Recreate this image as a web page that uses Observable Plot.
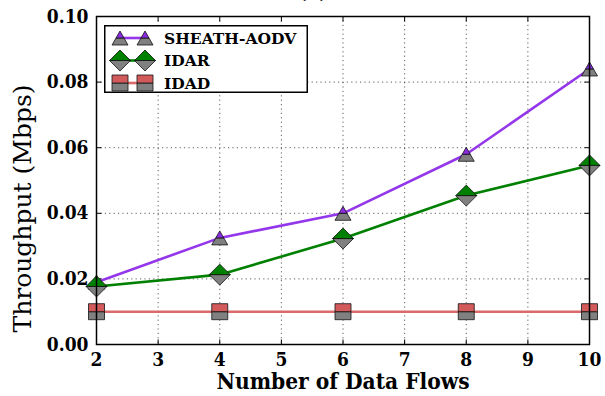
<!DOCTYPE html>
<html>
<head>
<meta charset="utf-8">
<script src="https://cdn.jsdelivr.net/npm/d3@7"></script>
<script src="https://cdn.jsdelivr.net/npm/@observablehq/plot@0.6"></script>
<style>
  html, body { margin: 0; padding: 0; background: #fff; }
  #wrap { position: relative; width: 605px; height: 396px; overflow: hidden; }
  #legend { position: absolute; left: 104px; top: 25px; }
</style>
</head>
<body>
<div id="wrap"></div>
<script>
// ---- data ----
const flows = [2, 4, 6, 8, 10];
const seriesNames = ["SHEATH-AODV", "IDAR", "IDAD"];
const sheath = [0.019, 0.0325, 0.040, 0.058, 0.084];
const idar = [0.0177, 0.0213, 0.0323, 0.0454, 0.0546];
const idad = [0.010, 0.010, 0.010, 0.010, 0.010];
const xTicks = [2, 3, 4, 5, 6, 7, 8, 9, 10];
const yTicks = [0.00, 0.02, 0.04, 0.06, 0.08, 0.10];
const titleText = "(a)";
const xLabel = "Number of Data Flows";
const yLabel = "Throughput (Mbps)";

// ---- styles ----
const lineColors = ["#9436ea", "#008000", "#dc6a6a"];
const topColors = ["#8a2be2", "#008000", "#d35a5a"];
const gray = "#808080";
const condensed = "'DejaVu Serif Condensed', 'DejaVu Serif', serif";
const serif = "'DejaVu Serif', serif";

// half-filled symbols
const tw = 8, th = 7;
const triTop = {draw(c){ c.moveTo(0,-th); c.lineTo(tw/2,0); c.lineTo(-tw/2,0); c.closePath(); }};
const triBot = {draw(c){ c.moveTo(-tw/2,0); c.lineTo(tw/2,0); c.lineTo(tw,th); c.lineTo(-tw,th); c.closePath(); }};
const dr = 10.5;
const diaTop = {draw(c){ c.moveTo(-dr,0); c.lineTo(0,-dr); c.lineTo(dr,0); c.closePath(); }};
const diaBot = {draw(c){ c.moveTo(-dr,0); c.lineTo(dr,0); c.lineTo(0,dr); c.closePath(); }};
const sq = 8;
const sqTop = {draw(c){ c.moveTo(-sq,-sq); c.lineTo(sq,-sq); c.lineTo(sq,0); c.lineTo(-sq,0); c.closePath(); }};
const sqBot = {draw(c){ c.moveTo(-sq,0); c.lineTo(sq,0); c.lineTo(sq,sq); c.lineTo(-sq,sq); c.closePath(); }};
const symTop = [triTop, diaTop, sqTop];
const symBot = [triBot, diaBot, sqBot];

// tick symbols (inward)
const tl = 5;
const tickUp = {draw(c){ c.moveTo(0,0); c.lineTo(0,-tl); }};
const tickDown = {draw(c){ c.moveTo(0,0); c.lineTo(0,tl); }};
const tickRight = {draw(c){ c.moveTo(0,0); c.lineTo(tl,0); }};
const tickLeft = {draw(c){ c.moveTo(0,0); c.lineTo(-tl,0); }};

const allSeries = [sheath, idar, idad];
const rows = [];
allSeries.forEach((vals, si) => vals.forEach((v, i) => rows.push({series: seriesNames[si], si, x: flows[i], y: v})));

const marks = [
  Plot.gridX(xTicks.slice(1, -1), {stroke: "#222", strokeOpacity: 0.8, strokeWidth: 0.9, strokeDasharray: "1.2,3.2"}),
  Plot.gridY(yTicks.slice(1, -1), {stroke: "#222", strokeOpacity: 0.8, strokeWidth: 0.9, strokeDasharray: "1.2,3.2"}),
  Plot.dot(xTicks, {x: d => d, frameAnchor: "bottom", symbol: tickUp, stroke: "black", strokeWidth: 1}),
  Plot.dot(xTicks, {x: d => d, frameAnchor: "top", symbol: tickDown, stroke: "black", strokeWidth: 1}),
  Plot.dot(yTicks, {y: d => d, frameAnchor: "left", symbol: tickRight, stroke: "black", strokeWidth: 1}),
  Plot.dot(yTicks, {y: d => d, frameAnchor: "right", symbol: tickLeft, stroke: "black", strokeWidth: 1}),
];
seriesNames.forEach((name, si) => {
  const d = rows.filter(r => r.si === si);
  marks.push(Plot.line(d, {x: "x", y: "y", stroke: lineColors[si], strokeWidth: 2.6}));
});
seriesNames.forEach((name, si) => {
  const d = rows.filter(r => r.si === si);
  marks.push(Plot.dot(d, {x: "x", y: "y", symbol: symBot[si], fill: gray, stroke: "#111", strokeWidth: 0.8}));
  marks.push(Plot.dot(d, {x: "x", y: "y", symbol: symTop[si], fill: topColors[si], stroke: "#111", strokeWidth: 0.8}));
});
marks.push(
  Plot.frame({stroke: "black", strokeWidth: 1.5}),
  Plot.axisX(xTicks, {tickSize: 0, tickPadding: 8, tickFormat: d => String(d), label: null, fontSize: 19, fontWeight: "bold", fontFamily: condensed}),
  Plot.axisY(yTicks, {tickSize: 0, tickPadding: 8, tickFormat: d3.format(".2f"), label: null, fontSize: 19, fontWeight: "bold", fontFamily: condensed}),
  Plot.text([xLabel], {text: d => d, frameAnchor: "bottom", dy: 37, fontSize: 22.5, fontWeight: "bold", fontFamily: condensed, lineAnchor: "middle", fill: "black"}),
  Plot.text([yLabel], {text: d => d, frameAnchor: "left", textAnchor: "middle", dx: -74, dy: 28, rotate: -90, fontSize: 25, fontWeight: "normal", fontFamily: serif, lineAnchor: "middle", fill: "black"}),
  Plot.text([titleText], {text: d => d, frameAnchor: "top", dx: -30, dy: -25, fontSize: 20, fontWeight: "bold", fontFamily: serif, lineAnchor: "middle", fill: "black"})
);

const chart = Plot.plot({
  width: 605,
  height: 396,
  marginLeft: 96,
  marginRight: 16,
  marginTop: 16,
  marginBottom: 52,
  x: {domain: [2, 10], axis: null},
  y: {domain: [0, 0.10], axis: null},
  style: {fontFamily: serif, fontWeight: "bold", background: "white", overflow: "visible", color: "black"},
  marks
});
document.getElementById("wrap").appendChild(chart);

// ---- legend ----
const lw = 204, lh = 68;
const leg = d3.select("#wrap").append("svg").attr("id", "legend")
  .attr("width", lw).attr("height", lh);
leg.append("rect").attr("x", 0.75).attr("y", 0.75).attr("width", lw - 1.5).attr("height", lh - 1.5)
  .attr("fill", "white").attr("stroke", "black").attr("stroke-width", 1.5);
const rowY = [13, 35.5, 58];
seriesNames.forEach((name, si) => {
  const g = leg.append("g").attr("transform", `translate(0,${rowY[si]})`);
  g.append("line").attr("x1", 16).attr("x2", 41).attr("y1", 0).attr("y2", 0)
    .attr("stroke", lineColors[si]).attr("stroke-width", 2.6);
  [16, 41].forEach(mx => {
    const pb = d3.path(); symBot[si].draw(pb);
    const pt = d3.path(); symTop[si].draw(pt);
    g.append("path").attr("d", pb.toString()).attr("transform", `translate(${mx},0)`)
      .attr("fill", gray).attr("stroke", "#111").attr("stroke-width", 0.8);
    g.append("path").attr("d", pt.toString()).attr("transform", `translate(${mx},0)`)
      .attr("fill", topColors[si]).attr("stroke", "#111").attr("stroke-width", 0.8);
  });
  g.append("text").attr("x", 60).attr("y", 5.5).text(name)
    .attr("font-family", serif).attr("font-weight", "bold").attr("font-size", 15.5).attr("fill", "black");
});
</script>
</body>
</html>
